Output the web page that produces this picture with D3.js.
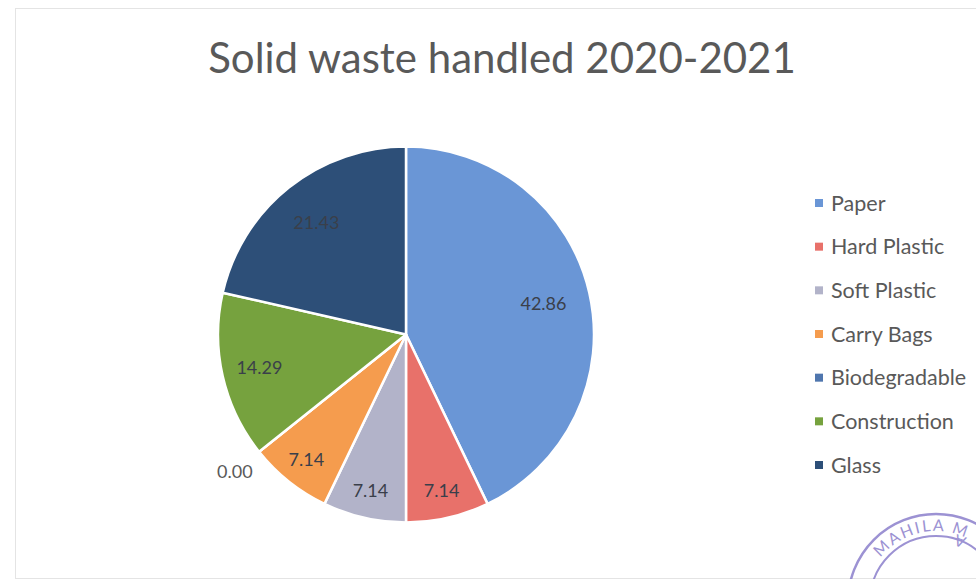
<!DOCTYPE html>
<html>
<head>
<meta charset="utf-8">
<script src="https://cdn.jsdelivr.net/npm/d3@7/dist/d3.min.js"></script>
<style>
  html, body { margin: 0; padding: 0; background: #ffffff; }
  svg { display: block; }
</style>
</head>
<body>
<svg id="chart" width="976" height="579"></svg>
<script>
// Waste categories and their share (%) for 2020-2021
const categories = ["Paper", "Hard Plastic", "Soft Plastic", "Carry Bags", "Biodegradable", "Construction", "Glass"];
const shares = [42.86, 7.14, 7.14, 7.14, 0.00, 14.29, 21.43];
const sliceColors = ["#6a96d6", "#e8716a", "#b2b3c9", "#f59c4e", "#4f76ae", "#76a23e", "#2d4f78"];
const titleText = "Solid waste handled 2020-2021";

const svg = d3.select("#chart");
const W = 976, H = 579;
const fontFamily = "Lato, 'Open Sans', 'Noto Sans', sans-serif";

// faint chart-area frame
svg.append("rect")
  .attr("x", 15.5).attr("y", 8.5)
  .attr("width", W + 20).attr("height", H - 9)
  .attr("fill", "none")
  .attr("stroke", "#e4e4e4")
  .attr("stroke-width", 1);

// title
svg.append("text")
  .attr("x", 502).attr("y", 73)
  .attr("text-anchor", "middle")
  .attr("font-family", fontFamily)
  .attr("font-size", 42)
  .attr("fill", "#595959")
  .text(titleText);

const data = categories.map((c, i) => ({ name: c, value: shares[i], color: sliceColors[i] }));

const cx = 406, cy = 334.5, r = 188;
const g = svg.append("g").attr("transform", `translate(${cx},${cy})`);

const pie = d3.pie().value(d => d.value).sort(null);
const arcs = pie(data);
const arc = d3.arc().innerRadius(0).outerRadius(r);

g.selectAll("path.slice")
  .data(arcs)
  .join("path")
  .attr("class", "slice")
  .attr("d", arc)
  .attr("fill", d => d.data.color)
  .attr("stroke", "#ffffff")
  .attr("stroke-width", 2.5)
  .attr("stroke-linejoin", "round");

// label distance from centre: narrow slices push the label further out
const labelFrac = d3.scaleLinear()
  .domain([7.14, 14.29, 21.43, 42.86])
  .range([0.85, 0.80, 0.765, 0.75])
  .clamp(true);

g.selectAll("text.value")
  .data(arcs)
  .join("text")
  .attr("class", "value")
  .attr("transform", d => {
    const mid = (d.startAngle + d.endAngle) / 2;
    const rr = d.data.value === 0 ? r + 31 : r * labelFrac(d.data.value);
    return `translate(${Math.sin(mid) * rr},${-Math.cos(mid) * rr})`;
  })
  .attr("text-anchor", "middle")
  .attr("dy", "0.36em")
  .attr("font-family", fontFamily)
  .attr("font-size", 18)
  .attr("fill", d => d.data.value === 0 ? "#595959" : "#3a3f4a")
  .text(d => d3.format(".2f")(d.data.value));

// legend
const legendY = d3.scalePoint().domain(categories).range([203, 465]);
const lg = svg.append("g");
const rows = lg.selectAll("g.row")
  .data(data)
  .join("g")
  .attr("class", "row")
  .attr("transform", d => `translate(815,${legendY(d.name)})`);
rows.append("rect")
  .attr("x", 0).attr("y", -4)
  .attr("width", 8).attr("height", 8)
  .attr("fill", d => d.color);
rows.append("text")
  .attr("x", 16).attr("dy", "0.36em")
  .attr("font-family", fontFamily)
  .attr("font-size", 21.5)
  .attr("fill", "#595959")
  .text(d => d.name);

// rubber stamp partially visible in the corner
const stamp = svg.append("g")
  .attr("transform", "translate(936,602)")
  .attr("fill", "none")
  .attr("stroke", "#8b7fcc")
  .attr("opacity", 0.85);
stamp.append("circle").attr("r", 88).attr("stroke-width", 2.5);
stamp.append("circle").attr("r", 66).attr("stroke-width", 2);
stamp.append("path")
  .attr("id", "stampArc")
  .attr("d", d3.arc()({ innerRadius: 71, outerRadius: 71, startAngle: -0.9, endAngle: 0.45 }).split("L")[0])
  .attr("stroke", "none");
stamp.append("text")
  .attr("font-family", fontFamily)
  .attr("font-size", 16)
  .attr("fill", "#8b7fcc")
  .attr("stroke", "none")
  .attr("letter-spacing", 2)
  .append("textPath")
  .attr("href", "#stampArc")
  .text("MAHILA MA");
</script>
</body>
</html>
